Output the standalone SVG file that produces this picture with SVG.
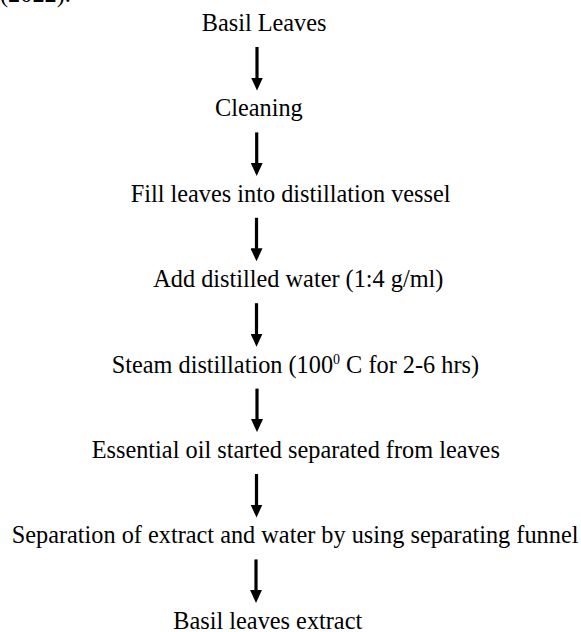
<svg xmlns="http://www.w3.org/2000/svg" width="581" height="632" viewBox="0 0 581 632">
<style>
text{font-family:"Liberation Serif","Times New Roman",serif;font-size:24.3px;fill:#000}
.arr{stroke:#000;stroke-width:3.2;fill:none}
</style>
<defs>
<marker id="ah" markerUnits="userSpaceOnUse" markerWidth="13" markerHeight="12" viewBox="0 0 13 12" refX="0.5" refY="6" orient="auto">
<path d="M0,0 L13,6 L0,12 Z" fill="#000"/>
</marker>
</defs>
<rect width="581" height="632" fill="#fff"/>
<text x="0" y="1.5">(2022).</text>
<g id="n1"><text x="201.7" y="31">Basil Leaves</text></g>
<g id="n2"><text x="215" y="116.4">Cleaning</text></g>
<g id="n3"><text x="130.7" y="201.8">Fill leaves into distillation vessel</text></g>
<g id="n4"><text x="153.3" y="287.2">Add distilled water (1:4 g/ml)</text></g>
<g id="n5"><text x="111.7" y="372.6">Steam distillation (100<tspan font-size="14" dy="-9">0</tspan><tspan dy="9"> C for 2-6 hrs)</tspan></text></g>
<g id="n6"><text x="91.7" y="458">Essential oil started separated from leaves</text></g>
<g id="n7"><text x="11.7" y="543.4">Separation of extract and water by using separating funnel</text></g>
<g id="n8"><text x="173.3" y="628.8">Basil leaves extract</text></g>
<g id="connectors">
<path class="arr" d="M257,47 V78" marker-end="url(#ah)"/>
<path class="arr" d="M256.7,132.4 V163.4" marker-end="url(#ah)"/>
<path class="arr" d="M256.5,217.8 V248.8" marker-end="url(#ah)"/>
<path class="arr" d="M256.5,303.2 V334.2" marker-end="url(#ah)"/>
<path class="arr" d="M257,388.6 V419.6" marker-end="url(#ah)"/>
<path class="arr" d="M256.5,474 V505" marker-end="url(#ah)"/>
<path class="arr" d="M256,559.4 V590.4" marker-end="url(#ah)"/>
</g>
</svg>
